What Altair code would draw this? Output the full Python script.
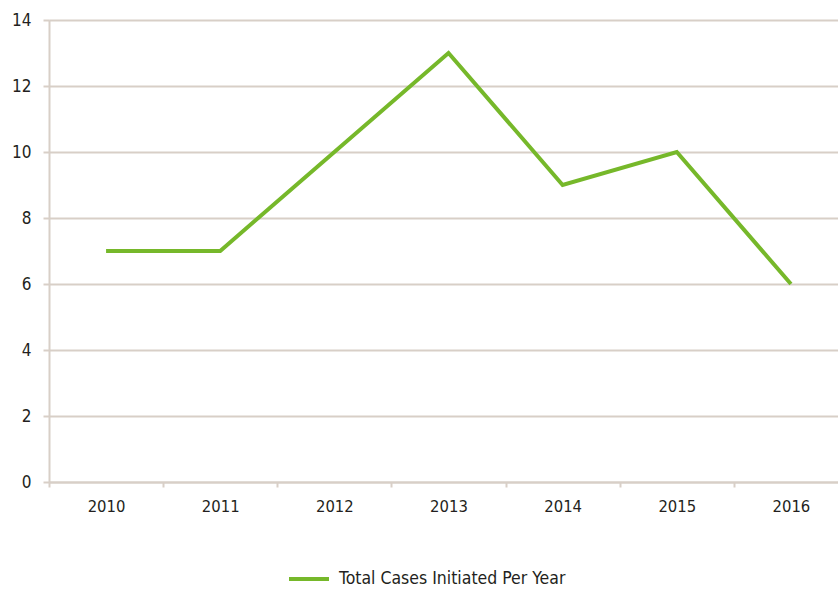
import altair as alt
import pandas as pd

years = ["2010", "2011", "2012", "2013", "2014", "2015", "2016"]
cases = [7, 7, 10, 13, 9, 10, 6]
series = "Total Cases Initiated Per Year"

df = pd.DataFrame({"year": years, "cases": cases, "series": [series] * len(years)})

FONT = "DejaVu Sans Condensed, Roboto, sans-serif"
GRID = "#d8cfc7"
GREEN = "#76b82a"
TEXT = "#231f20"

chart = alt.Chart(df).mark_line(strokeWidth=4, strokeCap="butt", strokeJoin="miter").encode(
    x=alt.X("year:O", sort=years, bandPosition=0.5,
            scale=alt.Scale(type="band", paddingInner=0, paddingOuter=0, range=[0, 799]),
            axis=alt.Axis(title=None, labelAngle=0, tickBand="extent", grid=False,
                          domainColor=GRID, domainWidth=2, tickColor=GRID, tickSize=5, tickWidth=2,
                          labelFont=FONT, labelFontSize=16.5, labelColor=TEXT, labelPadding=11)),
    y=alt.Y("cases:Q", scale=alt.Scale(domain=[0, 14], nice=False),
            axis=alt.Axis(title=None, values=[0, 2, 4, 6, 8, 10, 12, 14], grid=True,
                          gridColor=GRID, gridWidth=2, domainColor=GRID, domainWidth=2,
                          tickColor=GRID, tickSize=6, tickWidth=2,
                          labelFont=FONT, labelFontSize=17, labelColor=TEXT, labelPadding=12)),
    color=alt.Color("series:N", scale=alt.Scale(domain=[series], range=[GREEN]),
                    legend=alt.Legend(title=None, orient="none", legendX=238, legendY=537,
                                      symbolType="stroke", symbolSize=1600, symbolStrokeWidth=4,
                                      labelFont=FONT, labelFontSize=17.5, labelColor=TEXT,
                                      labelOffset=8, labelLimit=0)),
).properties(
    width=789, height=462,
    autosize=alt.AutoSizeParams(type="none"),
    padding={"left": 49, "top": 20, "right": 0, "bottom": 107},
).configure_view(stroke=None).configure(background="white")

chart.save("out.html", embed_options={"renderer": "svg", "actions": False})
